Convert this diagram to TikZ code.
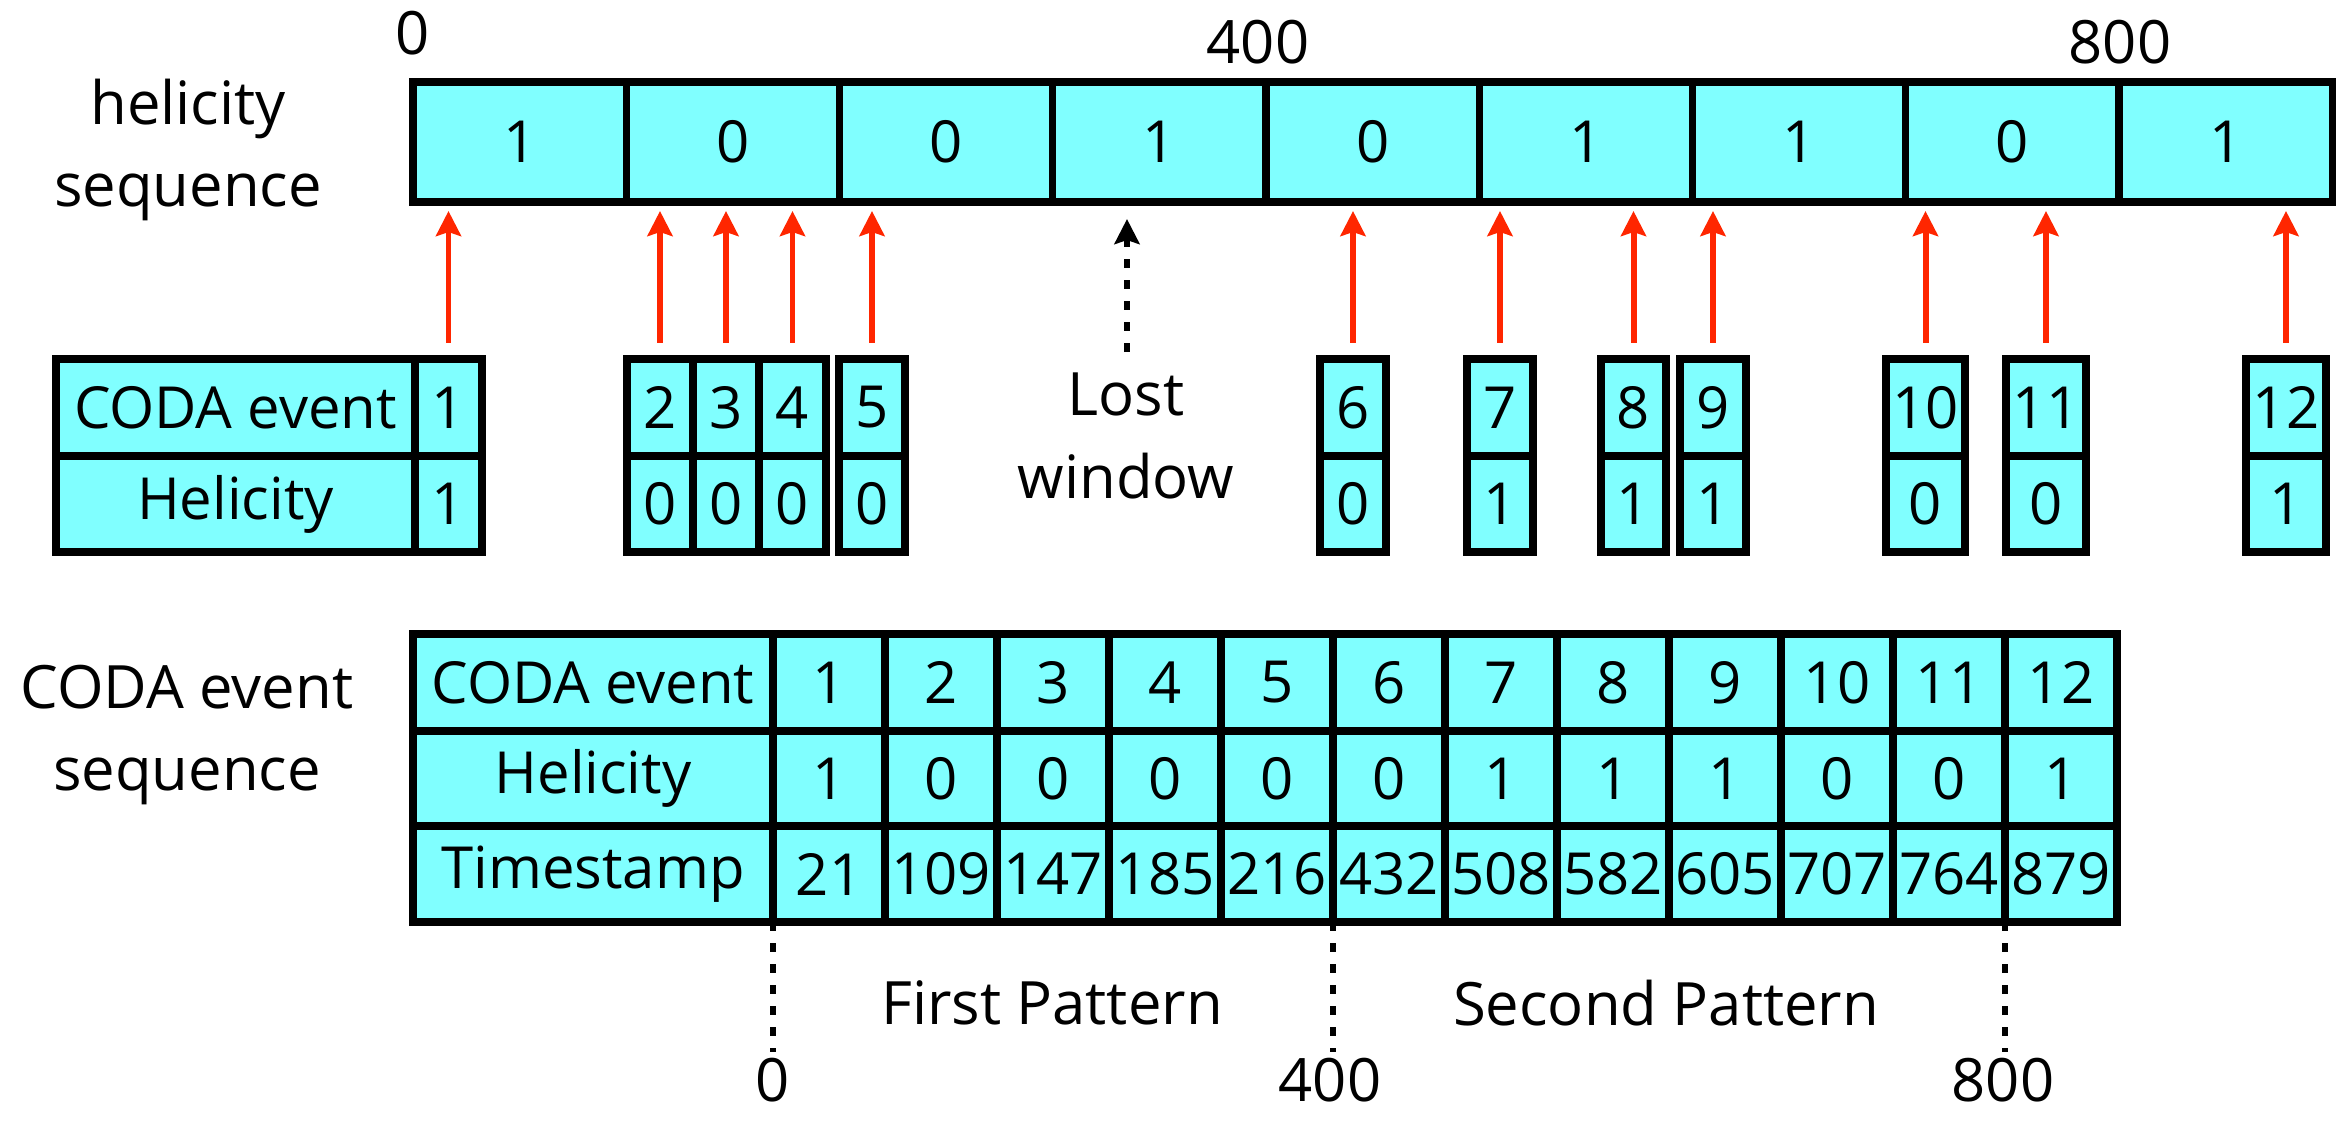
\documentclass[tikz,border=0pt]{standalone}
\usepackage{fontspec}
\setmainfont{Open Sans}
\usetikzlibrary{arrows.meta}
\definecolor{cellcyan}{RGB}{128,255,255}
\definecolor{tagred}{RGB}{255,38,0}

% a filled table cell spanning (x1,y1)-(x2,y2), in pixel-like units
\newcommand\cellat[6]{%
  \pgfmathsetmacro\cellW{((#4)-(#2))*0.01}%
  \pgfmathsetmacro\cellH{((#5)-(#3))*0.01}%
  \node[cellbox,minimum width=\cellW cm,minimum height=\cellH cm]
    (#1) at ({((#2)+(#4))/2},{((#3)+(#5))/2}) {#6};}

\begin{document}
\begin{tikzpicture}[x=0.01cm,y=-0.01cm,
  cellbox/.style={draw=black,fill=cellcyan,line width=2.1pt,inner sep=0pt,
    outer sep=0pt,font=\fontsize{16.5}{20}\selectfont},
  lbl/.style={inner sep=0pt,align=center,font=\fontsize{17}{23.5}\selectfont},
  scalelbl/.style={inner sep=0pt,font=\fontsize{17}{20}\selectfont},
  hitarrow/.style={draw=tagred,line width=1.7pt,
    -{Stealth[length=0.25cm,width=0.25cm,inset=0.04cm]}},
  lostarrow/.style={draw=black,line width=1.5pt,dash pattern=on 0.09cm off 0.12cm,
    -{Stealth[length=0.25cm,width=0.25cm,inset=0.04cm]}},
  markline/.style={draw=black,line width=1.5pt,dash pattern=on 0.09cm off 0.12cm}]

\useasboundingbox (0,0) rectangle (2347,1121);

% ---------------- helicity sequence bar ----------------
\node[lbl] (hsl) at (188,150) {helicity\\sequence};
\foreach \i/\v in {0/1,1/0,2/0,3/1,4/0,5/1,6/1,7/0,8/1}{
  \cellat{h\i}{413+\i*213.25}{82}{413+(\i+1)*213.25}{202}{\v}
}
\node[scalelbl] (s0)   at (413,33)  {0};
\node[scalelbl] (s400) at (1258,42) {400};
\node[scalelbl] (s800) at (2120,42) {800};

% ---------------- recorded CODA events ----------------
\cellat{ml1}{56}{359}{415}{456}{CODA event}
\cellat{ml2}{56}{456}{415}{552}{Helicity}
\foreach \i/\xa/\xb/\hv in {1/415/482/1, 2/627/693/0, 3/693/759/0, 4/759/826/0,
    5/839/905/0, 6/1320/1386/0, 7/1467/1533/1, 8/1601/1666/1, 9/1680/1746/1,
    10/1886/1965/0, 11/2006/2086/0, 12/2246/2326/1}{
  \cellat{e\i}{\xa}{359}{\xb}{456}{\i}
  \cellat{v\i}{\xa}{456}{\xb}{552}{\hv}
}

% arrows from each event to its helicity window
\foreach \i in {1,...,12}{
  \draw[hitarrow,shorten >=0.09cm] ([yshift=0.16cm]e\i.north) -- (e\i.north |- h0.south);
}

% window with no event
\node[lbl] (lost) at (1126,436) {Lost\\window};
\coordinate (lostfoot) at (1127,352);
\draw[lostarrow,shorten >=0.17cm] (lostfoot) -- (lostfoot |- h3.south);

% ---------------- CODA event sequence table ----------------
\node[lbl] (csl) at (187,735) {CODA event\\sequence};
\cellat{tl1}{413}{634}{773}{731}{CODA event}
\cellat{tl2}{413}{731}{773}{826}{Helicity}
\cellat{tl3}{413}{826}{773}{922}{Timestamp}
\foreach \i/\hv/\ts in {1/1/21, 2/0/109, 3/0/147, 4/0/185, 5/0/216, 6/0/432,
    7/1/508, 8/1/582, 9/1/605, 10/0/707, 11/0/764, 12/1/879}{
  \cellat{te\i}{773+(\i-1)*112}{634}{773+\i*112}{731}{\i}
  \cellat{th\i}{773+(\i-1)*112}{731}{773+\i*112}{826}{\hv}
  \cellat{tt\i}{773+(\i-1)*112}{826}{773+\i*112}{922}{\ts}
}

% pattern boundaries
\node[scalelbl] (b0)   at (773,1080)  {0};
\node[scalelbl] (b400) at (1330,1080) {400};
\node[scalelbl] (b800) at (2003,1080) {800};
\draw[markline,shorten >=0.05cm] (tt1.south west) -- (tt1.south west |- b0.north);
\draw[markline,shorten >=0.05cm] (tt6.south west) -- (tt6.south west |- b400.north);
\draw[markline,shorten >=0.05cm] (tt12.south west) -- (tt12.south west |- b800.north);

\node[lbl] (p1) at (1052,1003) {First Pattern};
\node[lbl] (p2) at (1666,1003) {Second Pattern};
\end{tikzpicture}
\end{document}
